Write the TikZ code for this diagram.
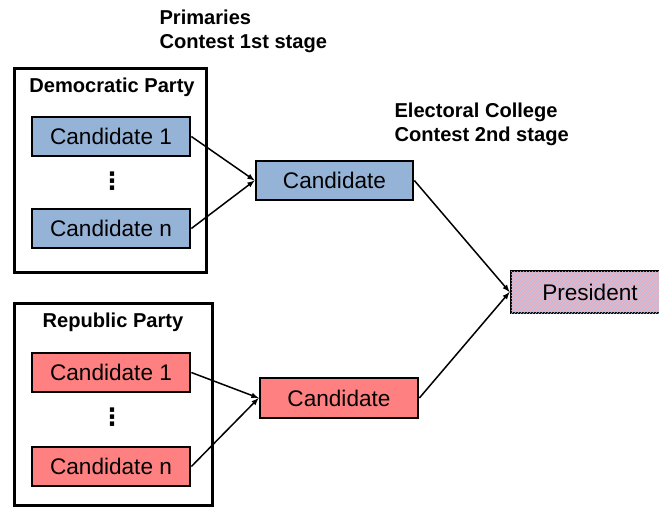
\documentclass[tikz,border=0pt]{standalone}
\usepackage{fontspec}
\setmainfont{Liberation Sans}
\newfontfamily\dotsfont{DejaVu Sans}
\usetikzlibrary{patterns,arrows}

\definecolor{demblue}{HTML}{95B3D7}
\definecolor{repred}{HTML}{FF8080}
\definecolor{prespink}{HTML}{EEB4C4}
\definecolor{preslines}{HTML}{A8BCE4}

\tikzset{
    partybox/.style={draw=black,line width=3pt,minimum width=#1,minimum height=202pt},
    candbox/.style={draw=black,line width=2.7pt,minimum width=158pt,minimum height=39pt,
        inner sep=0pt,font=\fontsize{22.6}{26}\selectfont},
    title/.style={font=\bfseries\fontsize{20.1}{24}\selectfont,align=left},
    vdotsnode/.style={inner sep=0pt,font=\dotsfont\bfseries\fontsize{24}{26}\selectfont},
    link/.style={-latex,line width=1.5pt}
}

\begin{document}
\begin{tikzpicture}[x=1pt,y=-1pt]
            \useasboundingbox (0,0) rectangle (659,507);
            \clip (0,0) rectangle (659,507);

            % stage labels
            \node[title,anchor=west] (primaries) at (156,31) {Primaries\\Contest 1st stage};
            \node[title,anchor=west] (college) at (391,124) {Electoral College\\Contest 2nd stage};

            % democratic party
            \node[partybox=192pt,minimum height=204pt] (dem) at (110,170) {};
            \node[title] (demname) at (112,87) {Democratic Party};
            \node[candbox,fill=demblue] (dem1) at (111,136.5) {Candidate 1};
            \node[vdotsnode] (demdots) at (112,181) {⋮};
            \node[candbox,fill=demblue] (demn) at (111,228.5) {Candidate n};

            % republic party
            \node[partybox=198pt] (rep) at (113,404) {};
            \node[title] (repname) at (113,322) {Republic Party};
            \node[candbox,fill=repred] (rep1) at (111,372.5) {Candidate 1};
            \node[vdotsnode] (repdots) at (112,417) {⋮};
            \node[candbox,fill=repred] (repn) at (111,466.5) {Candidate n};

            % second stage
            \node[candbox,fill=demblue,minimum width=157pt] (demcand) at (334.5,180.5) {Candidate};
            \node[candbox,fill=repred,minimum height=40pt] (repcand) at (339,398) {Candidate};

            \node[candbox,minimum height=42pt,fill=prespink,
                postaction={pattern=north east lines,pattern color=preslines}] (pres) at (590,292) {President};

            % arrows
            \draw[link] (dem1.east) -- (demcand.west);
            \draw[link] (demn.east) -- (demcand.west);
            \draw[link] (rep1.east) -- (repcand.west);
            \draw[link] (repn.east) -- (repcand.west);
            \draw[link] (demcand.east) -- (pres.west);
            \draw[link] (repcand.east) -- (pres.west);

        \end{tikzpicture}
\end{document}
